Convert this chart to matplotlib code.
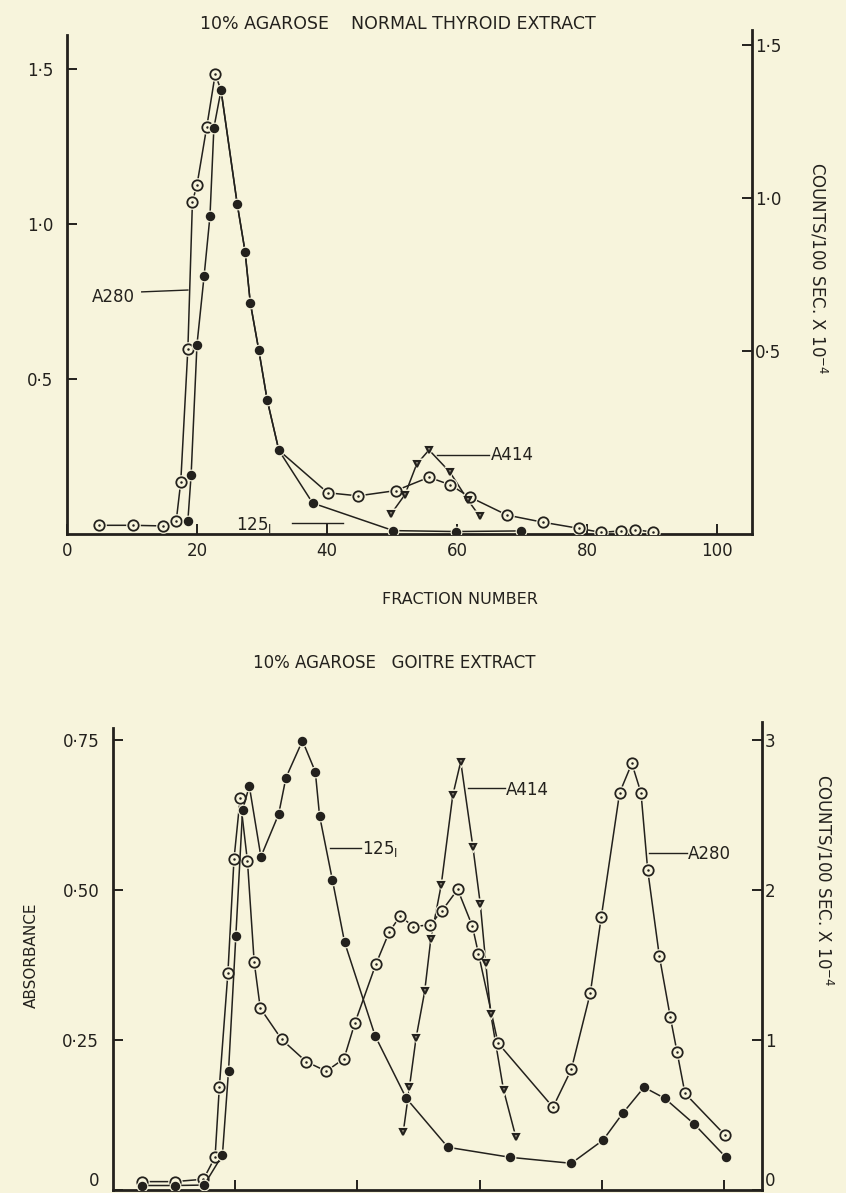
import matplotlib.pyplot as plt

bg = '#f7f4dc'
ink = '#23211d'
plt.rcParams['font.family'] = ['DejaVu Sans']

# ---- top panel: normal thyroid extract (fraction number vs absorbance / counts)
top_a280_x = [5.0, 10.1, 14.8, 16.8, 17.5, 18.6, 19.3, 20.0, 21.5, 22.8, 23.7, 26.2, 27.4, 28.2,
              29.5, 30.8, 32.6, 40.1, 44.8, 50.6, 55.7, 58.9, 62.0, 67.7, 73.2, 78.8, 82.2,
              85.2, 87.4, 90.2]
top_a280_y = [0.028, 0.028, 0.026, 0.041, 0.167, 0.598, 1.072, 1.126, 1.313, 1.483, 1.432, 1.063,
              0.911, 0.746, 0.594, 0.432, 0.270, 0.133, 0.123, 0.140, 0.183, 0.159, 0.119, 0.061,
              0.038, 0.018, 0.005, 0.010, 0.014, 0.006]
top_a280_marked = [0, 1, 2, 3, 4, 5, 6, 7, 8, 9] + list(range(17, 30))

top_i125_x = [18.6, 19.1, 20.0, 21.1, 22.0, 22.6, 23.7, 26.2, 27.4, 28.2, 29.5, 30.8, 32.6,
              37.8, 50.2, 59.8, 69.8]
top_i125_y = [-0.054, 0.096, 0.521, 0.746, 0.941, 1.229, 1.352, 0.979, 0.825, 0.658, 0.504,
              0.340, 0.175, 0.003, -0.087, -0.090, -0.088]

top_a414_x = [49.8, 52.0, 53.8, 55.7, 58.9, 61.7, 63.5]
top_a414_y = [0.063, 0.127, 0.225, 0.271, 0.200, 0.109, 0.057]

# ---- bottom panel: goitre extract
bot_a280_x = [4.7, 10.1, 14.8, 16.7, 17.4, 18.8, 19.8, 20.8, 22.0, 23.1, 24.1, 27.6, 31.6, 34.9,
              37.8, 39.6, 43.0, 45.2, 47.0, 49.1, 51.9, 53.8, 56.4, 58.8, 59.8, 63.0, 72.0,
              75.0, 78.1, 79.9, 82.9, 84.9, 86.4, 87.5, 89.4, 91.2, 92.3, 93.6, 100.2]
bot_a280_y = [0.014, 0.014, 0.018, 0.055, 0.172, 0.362, 0.552, 0.653, 0.548, 0.380, 0.303, 0.251,
              0.214, 0.198, 0.219, 0.279, 0.376, 0.430, 0.457, 0.439, 0.442, 0.465, 0.501, 0.440,
              0.394, 0.245, 0.138, 0.201, 0.328, 0.455, 0.662, 0.711, 0.662, 0.533, 0.390, 0.288,
              0.230, 0.161, 0.091]

bot_i125_x = [4.7, 10.1, 14.9, 17.9, 18.9, 20.1, 21.2, 22.3, 24.2, 27.1, 28.3, 31.0, 33.1, 33.8,
              35.9, 37.9, 42.9, 48.0, 54.8, 65.0, 75.0, 80.2, 83.4, 86.9, 90.3, 95.1, 100.3]
bot_i125_y = [0.03, 0.03, 0.033, 0.233, 0.793, 1.695, 2.533, 2.693, 2.222, 2.505, 2.749, 2.995,
              2.789, 2.495, 2.067, 1.651, 1.027, 0.611, 0.285, 0.218, 0.178, 0.333, 0.511,
              0.685, 0.611, 0.440, 0.218]

bot_a414_x = [47.5, 48.5, 49.6, 51.0, 52.0, 53.7, 55.6, 56.9, 58.9, 60.1, 61.0, 61.8, 63.9, 65.9]
bot_a414_y = [0.097, 0.171, 0.254, 0.331, 0.418, 0.508, 0.658, 0.714, 0.571, 0.477, 0.378,
              0.294, 0.167, 0.089]


def trace(ax, x, y, kind, marked=None):
    ax.plot(x, y, color=ink, lw=1.1, zorder=2)
    if marked is None:
        marked = range(len(x))
    xm = [x[i] for i in marked]
    ym = [y[i] for i in marked]
    if kind == 'open':
        m, ms, fc, mew = 'o', 7.5, bg, 1.3
    elif kind == 'filled':
        m, ms, fc, mew = 'o', 5.5, ink, 1.3
    else:
        m, ms, fc, mew = 'v', 5.0, '#8a8578', 1.5
    # small gap of paper round every marker, like the hand drawn original
    ax.plot(xm, ym, ls='none', marker=m, ms=ms + 3, mfc=bg, mec='none', zorder=3)
    ax.plot(xm, ym, ls='none', marker=m, ms=ms, mfc=fc, mec=ink, mew=mew, zorder=4)
    if kind == 'open':
        ax.plot(xm, ym, ls='none', marker='o', ms=1.8, mfc=ink, mec='none', zorder=5)


def style(ax, ax2):
    for a in (ax, ax2):
        a.tick_params(direction='in', length=7, width=1.4, labelsize=12, colors=ink, pad=6)
    ax.spines['top'].set_visible(False)
    ax.spines['right'].set_visible(False)
    for s in ('left', 'bottom'):
        ax.spines[s].set_linewidth(2.0)
        ax.spines[s].set_color(ink)
    for s in ('top', 'left', 'bottom'):
        ax2.spines[s].set_visible(False)
    ax2.spines['right'].set_linewidth(2.0)
    ax2.spines['right'].set_color(ink)
    ax.tick_params(axis='y', pad=10)
    ax2.tick_params(axis='y', pad=2)


fig = plt.figure(figsize=(8.46, 11.93), dpi=100, facecolor=bg)

# ---------------- top panel
ax = fig.add_axes([0.0792, 0.5524, 0.8097, 0.4225])
ax.set_facecolor(bg)
ax2 = ax.twinx()
ax.set_xlim(0, 105.4)
ax.set_ylim(0, 1.626)
ax2.set_ylim(-0.098, 1.549)

trace(ax, top_a280_x, top_a280_y, 'open', top_a280_marked)
trace(ax, top_a414_x, top_a414_y, 'tri')
trace(ax2, top_i125_x, top_i125_y, 'filled')

style(ax, ax2)
ax.spines['left'].set_bounds(0, 1.61)
ax.set_xticks([0, 20, 40, 60, 80, 100])
ax.set_xticklabels(['0', '20', '40', '60', '80', '100'])
ax.set_yticks([0.5, 1.0, 1.5])
ax.set_yticklabels(['0·5', '1·0', '1·5'])
ax2.set_yticks([0.5, 1.0, 1.5])
ax2.set_yticklabels(['0·5', '1·0', '1·5'])

ax.text(10.4, 0.765, 'A280', fontsize=12, color=ink, ha='right', va='center')
ax.plot([11.5, 18.6], [0.781, 0.787], color=ink, lw=1.0)
ax.text(65.2, 0.255, 'A414', fontsize=12, color=ink, ha='left', va='center')
ax.plot([57.0, 64.9], [0.255, 0.255], color=ink, lw=1.0)
ax.text(31.6, 0.03, r'125$_{\mathrm{I}}$', fontsize=12, color=ink, ha='right', va='center')
ax.plot([34.6, 42.5], [0.034, 0.034], color=ink, lw=1.0)

fig.text(398 / 846, 1 - 24 / 1193, '10% AGAROSE    NORMAL THYROID EXTRACT', fontsize=12.5,
         color=ink, ha='center', va='center')
fig.text(460 / 846, 1 - 600 / 1193, 'FRACTION NUMBER', fontsize=11.5, color=ink,
         ha='center', va='center')
fig.text(818 / 846, 1 - 268 / 1193, 'COUNTS/100 SEC. X 10$^{-4}$', fontsize=12, color=ink,
         ha='center', va='center', rotation=270)

# ---------------- bottom panel
bx = fig.add_axes([0.1336, 0.0025, 0.7671, 0.3923])
bx.set_facecolor(bg)
bx2 = bx.twinx()
bx.set_xlim(0, 106.2)
bx.set_ylim(0, 0.78)
bx2.set_ylim(0, 3.12)

trace(bx, bot_a280_x, bot_a280_y, 'open')
trace(bx, bot_a414_x, bot_a414_y, 'tri')
trace(bx2, bot_i125_x, bot_i125_y, 'filled')

style(bx, bx2)
bx.spines['left'].set_bounds(0, 0.77)
bx.set_xticks([20, 40, 60, 80, 100])
bx.tick_params(axis='x', labelbottom=False)
bx.set_yticks([0, 0.25, 0.5, 0.75])
bx.set_yticklabels(['0', '0·25', '0·50', '0·75'])
bx2.set_yticks([0, 1, 2, 3])
bx2.set_yticklabels(['0', '1', '2', '3'])
# the zero labels sit on the lower page edge; keep them just inside it
bx.get_yticklabels()[0].set_verticalalignment('bottom')
bx2.get_yticklabels()[0].set_verticalalignment('bottom')

bx.plot([35.5, 40.6], [0.57, 0.57], color=ink, lw=1.0)
bx.text(40.8, 0.568, r'125$_{\mathrm{I}}$', fontsize=12, color=ink, ha='left', va='center')
bx.plot([58.1, 64.2], [0.67, 0.67], color=ink, lw=1.0)
bx.text(64.3, 0.667, 'A414', fontsize=12, color=ink, ha='left', va='center')
bx.plot([87.7, 93.9], [0.562, 0.562], color=ink, lw=1.0)
bx.text(94.1, 0.56, 'A280', fontsize=12, color=ink, ha='left', va='center')

fig.text(394 / 846, 1 - 663 / 1193, '10% AGAROSE   GOITRE EXTRACT', fontsize=12, color=ink,
         ha='center', va='center')
fig.text(31 / 846, 1 - 955 / 1193, 'ABSORBANCE', fontsize=11, color=ink,
         ha='center', va='center', rotation=90)
fig.text(824 / 846, 1 - 880 / 1193, 'COUNTS/100 SEC. X 10$^{-4}$', fontsize=12, color=ink,
         ha='center', va='center', rotation=270)

fig.savefig('out.png', dpi=100, facecolor=bg)
